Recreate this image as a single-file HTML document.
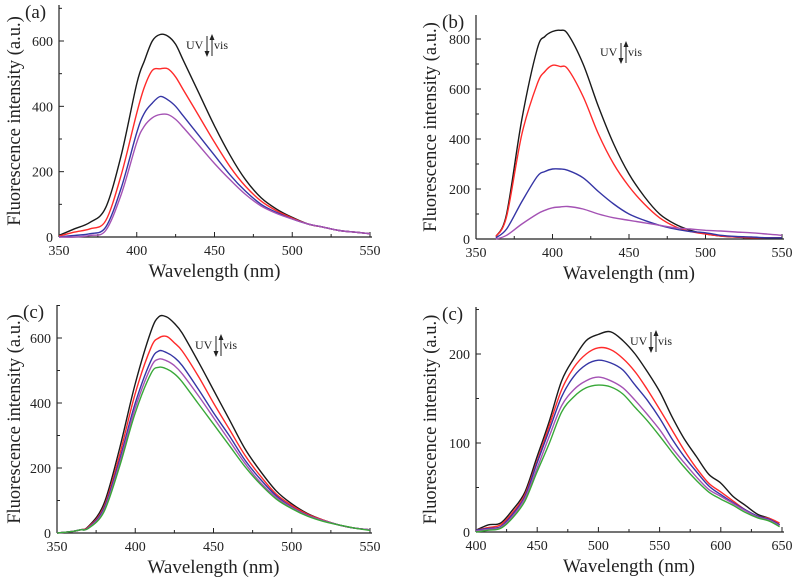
<!DOCTYPE html>
<html><head><meta charset="utf-8"><style>
body{margin:0;background:#fff;}
svg{display:block;font-family:"Liberation Serif",serif;}
</style></head><body>
<svg id="s" width="800" height="583"></svg>
<script>
const wlA=[350,360,370,380,390,400,405,410,415,420,425,430,440,450,460,470,480,490,500,510,520,530,540,550];
const aBlack=[5,25,45,90,250,470,540,600,620,615,590,540,440,340,250,175,120,85,60,40,30,20,15,10];
const aRed=[3,15,25,50,190,380,460,510,515,515,490,450,370,290,215,155,110,80,58,40,30,20,15,10];
const aBlue=[0,5,10,30,150,320,380,410,430,420,400,370,310,250,190,140,100,75,55,40,30,20,15,10];
const aPurple=[0,0,5,20,130,290,340,365,375,375,360,335,280,225,175,130,95,72,55,40,30,20,15,10];
const wlB=[363,370,380,390,395,400,405,410,420,430,440,450,460,470,480,490,500,510,520,530,540,550];
const bBlack=[10,100,480,760,810,830,835,820,700,530,380,260,170,100,60,35,20,12,8,5,5,5];
const bRed=[10,90,420,620,670,695,690,680,570,420,300,210,140,85,50,30,20,12,8,5,5,5];
const bBlue=[5,40,150,250,270,280,280,275,245,190,140,100,75,55,40,30,25,15,10,8,5,5];
const bPurple=[0,15,60,100,115,125,128,130,120,100,85,75,65,55,45,40,35,32,28,25,20,15];
const wlC=[350,360,365,370,380,390,400,410,415,420,425,430,440,450,460,470,480,490,500,510,520,530,540,550];
const cBlack=[0,5,10,20,90,260,460,620,665,665,645,615,530,440,350,260,190,130,90,60,40,25,15,10];
const cRed=[0,5,10,18,80,240,430,570,600,605,585,560,485,400,320,240,175,120,85,58,40,25,15,10];
const cBlue=[0,5,10,16,75,225,400,530,560,555,540,515,445,370,300,225,165,115,80,55,38,25,15,10];
const cPurple=[0,5,10,15,70,215,385,510,535,530,515,490,425,355,285,215,155,110,78,54,38,25,15,10];
const cGreen=[0,5,10,14,65,205,370,490,510,505,490,465,400,335,270,205,150,105,75,52,36,25,15,8];
const wlD=[400,410,420,430,440,450,460,470,480,490,500,510,520,530,540,550,560,570,580,590,600,610,620,630,640,648];
const dBlack=[2,8,10,25,45,85,125,170,195,215,222,225,215,200,180,158,130,105,85,65,55,40,30,20,15,8];
const dRed=[2,5,8,22,42,80,120,160,185,200,207,205,195,180,160,138,115,92,72,55,45,35,25,18,15,10];
const dBlue=[2,4,6,20,40,78,115,152,175,188,193,190,182,165,148,128,105,85,68,52,42,33,25,18,14,8];
const dPurple=[1,3,5,18,38,72,108,142,160,170,174,170,162,148,132,115,95,78,62,48,40,32,24,17,13,7];
const dGreen=[0,2,4,16,35,68,100,135,152,162,165,163,155,140,125,108,90,73,58,45,37,30,22,16,12,6];
const xTicksA=[350,400,450,500,550], xTicksD=[400,450,500,550,600,650];
const yTicksA=[0,200,400,600], yTicksB=[0,200,400,600,800], yTicksD=[0,100,200];
const COL={black:'#1a1a1a',red:'#ff2a2a',blue:'#3535a5',purple:'#a452b4',green:'#38a838'};
const S=document.getElementById('s'),NS='http://www.w3.org/2000/svg';
function mk(t,a,p){const e=document.createElementNS(NS,t);for(const k in a)e.setAttribute(k,a[k]);(p||S).appendChild(e);return e;}
function smooth(P){let d='M'+P[0][0].toFixed(1)+','+P[0][1].toFixed(1);
 for(let i=0;i<P.length-1;i++){const p0=P[i-1]||P[i],p1=P[i],p2=P[i+1],p3=P[i+2]||p2;
  const c1=[p1[0]+(p2[0]-p0[0])/6,p1[1]+(p2[1]-p0[1])/6],c2=[p2[0]-(p3[0]-p1[0])/6,p2[1]-(p3[1]-p1[1])/6];
  d+='C'+c1[0].toFixed(1)+','+c1[1].toFixed(1)+' '+c2[0].toFixed(1)+','+c2[1].toFixed(1)+' '+p2[0].toFixed(1)+','+p2[1].toFixed(1);}
 return d;}
function panel(o){
 const g=mk('g',{});
 
 
 const X=v=>o.x0+(v-o.xmin)/(o.xmax-o.xmin)*(o.x1-o.x0);
 const Y=v=>o.y0-(v-o.ymin)/(o.ymax-o.ymin)*(o.y0-o.y1);
 mk('line',{x1:o.x0,y1:o.top,x2:o.x0,y2:o.y0,stroke:'#222','stroke-width':1.2},g);
 mk('line',{x1:o.x0,y1:o.y0,x2:o.x1+2,y2:o.y0,stroke:'#222','stroke-width':1.2},g);
 const xs=o.xt;
 xs.forEach((v,i)=>{mk('line',{x1:X(v),y1:o.y0,x2:X(v),y2:o.y0-5,stroke:'#222'},g);
  if(i<xs.length-1){const m=(v+xs[i+1])/2;mk('line',{x1:X(m),y1:o.y0,x2:X(m),y2:o.y0-3,stroke:'#222'},g);}
  const t=mk('text',{x:X(v),y:o.y0+18,'text-anchor':'middle','font-size':14,fill:'#222'},g);t.textContent=v;
  });
 const ys=o.yt;
 ys.forEach((v,i)=>{mk('line',{x1:o.x0,y1:Y(v),x2:o.x0+5,y2:Y(v),stroke:'#222'},g);
  const m=v+(ys[1]-ys[0])/2; if(Y(m)>o.top) mk('line',{x1:o.x0,y1:Y(m),x2:o.x0+3,y2:Y(m),stroke:'#222'},g);
  const t=mk('text',{x:o.x0-6,y:Y(v)+5,'text-anchor':'end','font-size':14,fill:'#222'},g);t.textContent=v;
  });
 o.series.forEach(s=>{
  const d=smooth(s.v.map((v,i)=>[X(o.wl[i]),Y(v)]));
  const p=mk('path',{d:d,fill:'none',stroke:COL[s.c],'stroke-width':1.4,'stroke-linejoin':'round'},g);
  });
 let t=mk('text',{x:(o.x0+o.x1)/2,y:o.y0+40,'text-anchor':'middle','font-size':19,fill:'#222'},g);t.textContent='Wavelength (nm)';
 
 const cy=(o.top+o.y0)/2;
 t=mk('text',{x:o.tx,y:cy,'text-anchor':'middle','font-size':18.5,fill:'#222',transform:`rotate(-90 ${o.tx} ${cy})`},g);t.textContent='Fluorescence intensity (a.u.)';
 
 t=mk('text',{x:o.x0-34,y:o.top+13,'font-size':19,fill:'#222'},g);t.textContent=o.lab;
 
 const ax=o.ann[0],ay=o.ann[1];
 t=mk('text',{x:ax,y:ay+4,'font-size':12,fill:'#222'},g);t.textContent='UV';
 
 mk('line',{x1:ax+21,y1:ay-9,x2:ax+21,y2:ay+10,stroke:'#222'},g);
 mk('path',{d:`M${ax+18.5},${ay+6}L${ax+23.5},${ay+6}L${ax+21},${ay+12}Z`,fill:'#222'},g);
 mk('line',{x1:ax+26,y1:ay-8,x2:ax+26,y2:ay+11,stroke:'#222'},g);
 mk('path',{d:`M${ax+23.5},${ay-5}L${ax+28.5},${ay-5}L${ax+26},${ay-11}Z`,fill:'#222'},g);
 t=mk('text',{x:ax+28,y:ay+4,'font-size':12,fill:'#222'},g);t.textContent='vis';
 
}
panel({id:'a',lab:'(a)',x0:59,x1:370,xmin:350,xmax:550,y0:237,y1:41,ymin:0,ymax:600,top:5,tx:20,xt:xTicksA,yt:yTicksA,wl:wlA,ann:[186,45],
 series:[{c:'black',v:aBlack},{c:'red',v:aRed},{c:'blue',v:aBlue},{c:'purple',v:aPurple}]});
panel({id:'b',lab:'(b)',x0:476,x1:782,xmin:350,xmax:550,y0:239,y1:39,ymin:0,ymax:800,top:15,tx:436,xt:xTicksA,yt:yTicksB,wl:wlB,ann:[600,52],
 series:[{c:'black',v:bBlack},{c:'red',v:bRed},{c:'blue',v:bBlue},{c:'purple',v:bPurple}]});
panel({id:'c',lab:'(c)',x0:57,x1:370,xmin:350,xmax:550,y0:533,y1:338,ymin:0,ymax:600,top:305,tx:20,xt:xTicksA,yt:yTicksA,wl:wlC,ann:[195,345],
 series:[{c:'black',v:cBlack},{c:'red',v:cRed},{c:'blue',v:cBlue},{c:'purple',v:cPurple},{c:'green',v:cGreen}]});
panel({id:'d',lab:'(c)',x0:476,x1:782,xmin:400,xmax:650,y0:532,y1:354,ymin:0,ymax:200,top:307,tx:436,xt:xTicksD,yt:yTicksD,wl:wlD,ann:[630,341],
 series:[{c:'black',v:dBlack},{c:'red',v:dRed},{c:'blue',v:dBlue},{c:'purple',v:dPurple},{c:'green',v:dGreen}]});
</script>
</body></html>
